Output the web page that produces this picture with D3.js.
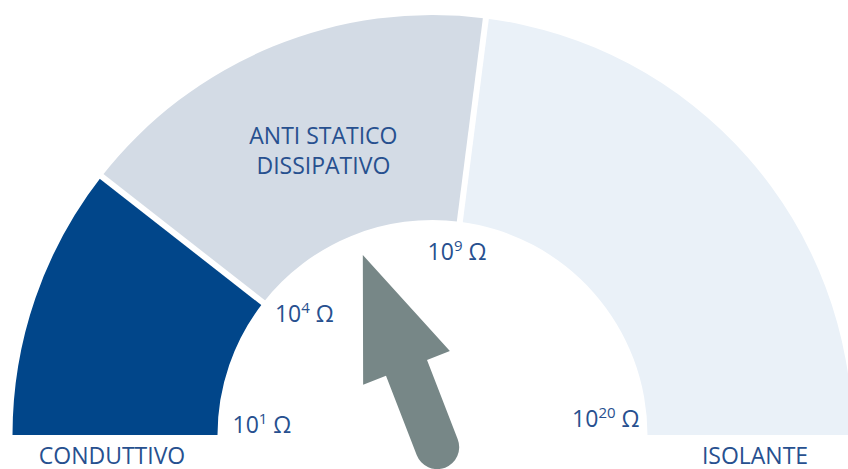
<!DOCTYPE html>
<html>
<head>
<meta charset="utf-8">
<script src="https://cdn.jsdelivr.net/npm/d3@7"></script>
<style>
  body { margin: 0; background: #fff; }
  text { font-family: "Open Sans", "Noto Sans", sans-serif; fill: #27508f; }
</style>
</head>
<body>
<div id="wrapper"></div>
<script>
// DATA
const tickExponents = [1, 4, 9, 20];
const tickLabels = ["10", "10", "10", "10"];
const tickSups = ["1", "4", "9", "20"];
const categories = ["CONDUTTIVO", "ANTI STATICO|DISSIPATIVO", "ISOLANTE"];
const categoryColors = ["#01468a", "#d3dbe5", "#eaf1f8"];
const needleExponent = 6.6;

function drawChart() {
  const dimensions = { width: 848, height: 469 };
  const cx = 432.5, cy = 435;
  const innerR = 215, outerR = 420;

  const svg = d3.select("#wrapper").append("svg")
    .attr("width", dimensions.width)
    .attr("height", dimensions.height);

  const g = svg.append("g").attr("transform", `translate(${cx},${cy})`);

  // piecewise scale: exponent -> angle (degrees, 0 = up)
  const angleScale = d3.scaleLinear()
    .domain(tickExponents)
    .range([-90, -52, 7.3, 90]);
  const rad = d => angleScale(d) * Math.PI / 180;

  const segments = categories.map((c, i) => ({
    name: c,
    from: tickExponents[i],
    to: tickExponents[i + 1],
    color: categoryColors[i]
  }));

  const arc = d3.arc().innerRadius(innerR).outerRadius(outerR);

  g.selectAll(".seg")
    .data(segments)
    .enter().append("path")
    .attr("class", "seg")
    .attr("fill", d => d.color)
    .attr("d", d => arc({ startAngle: rad(d.from), endAngle: rad(d.to) }));

  // white gaps between segments
  g.selectAll(".gap")
    .data(tickExponents.slice(1, -1))
    .enter().append("line")
    .attr("stroke", "#fff")
    .attr("stroke-width", 6)
    .attr("x1", d => (innerR - 2) * Math.sin(rad(d)))
    .attr("y1", d => -(innerR - 2) * Math.cos(rad(d)))
    .attr("x2", d => (outerR + 2) * Math.sin(rad(d)))
    .attr("y2", d => -(outerR + 2) * Math.cos(rad(d)));

  // tick labels
  const tickLayout = [
    { r: 200, anchor: "start", dx: 0, dy: -2 },
    { r: 200, anchor: "start", dx: 0, dy: 10 },
    { r: 185, anchor: "middle", dx: 1, dy: 8 },
    { r: 207, anchor: "end", dx: 0, dy: -8 }
  ];
  tickExponents.forEach((e, i) => {
    const l = tickLayout[i];
    const a = rad(e);
    const t = g.append("text")
      .attr("x", l.r * Math.sin(a) + l.dx)
      .attr("y", -l.r * Math.cos(a) + l.dy)
      .attr("text-anchor", l.anchor)
      .style("font-size", "23px");
    t.append("tspan").text(tickLabels[i]);
    t.append("tspan").attr("dy", -9).style("font-size", "15px").text(tickSups[i]);
    t.append("tspan").attr("dy", 9).text(" Ω");
  });

  // category labels
  const midR = (innerR + outerR) / 2;
  const catLayout = [
    { r: midR, dx: -3, dy: 29 },
    { r: 308, dx: 8, dy: -6 },
    { r: midR, dx: 5, dy: 29 }
  ];
  segments.forEach((s, i) => {
    const l = catLayout[i];
    let a;
    if (i === 0) a = rad(s.from);
    else if (i === segments.length - 1) a = rad(s.to);
    else a = (rad(s.from) + rad(s.to)) / 2;
    const lines = s.name.split("|");
    const t = g.append("text")
      .attr("text-anchor", "middle")
      .style("font-size", "23px");
    lines.forEach((ln, j) => {
      t.append("tspan")
        .attr("x", l.r * Math.sin(a) + l.dx)
        .attr("y", -l.r * Math.cos(a) + l.dy + j * 30)
        .text(ln);
    });
  });

  // needle
  const tipR = 193, headBase = 72, headHalf = 46.5, shaftHalf = 22, tailY = 13;
  const needlePath = d3.path();
  needlePath.moveTo(0, -tipR);
  needlePath.lineTo(headHalf, -headBase);
  needlePath.lineTo(shaftHalf, -headBase);
  needlePath.lineTo(shaftHalf, tailY);
  needlePath.arc(0, tailY, shaftHalf, 0, Math.PI);
  needlePath.lineTo(-shaftHalf, -headBase);
  needlePath.lineTo(-headHalf, -headBase);
  needlePath.closePath();

  g.append("path")
    .attr("d", needlePath.toString())
    .attr("fill", "#778787")
    .attr("transform", `rotate(${angleScale(needleExponent)})`);
}
drawChart();
</script>
</body>
</html>
